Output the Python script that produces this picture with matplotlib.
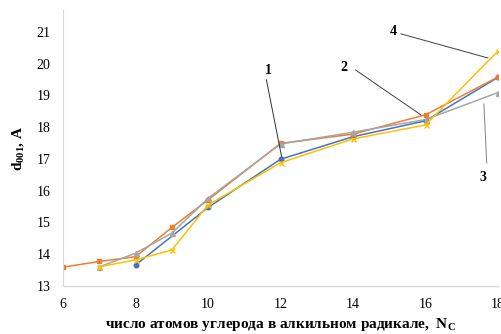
import matplotlib
matplotlib.use("Agg")
import matplotlib.pyplot as plt

# interlayer spacing d001 vs number of carbon atoms in the alkyl chain
nc_1 = [8, 10, 12, 14, 16, 18]
d_1 = [13.66, 15.47, 16.99, 17.70, 18.20, 19.57]

nc_2 = [6, 7, 8, 9, 10, 12, 14, 16, 18]
d_2 = [13.59, 13.77, 13.92, 14.84, 15.71, 17.49, 17.78, 18.39, 19.58]

nc_3 = [7, 8, 9, 10, 12, 14, 16, 18]
d_3 = [13.60, 14.03, 14.66, 15.76, 17.47, 17.84, 18.24, 19.09]

nc_4 = [7, 8, 9, 10, 12, 14, 16, 18]
d_4 = [13.60, 13.82, 14.13, 15.55, 16.88, 17.63, 18.07, 20.40]

plt.rcParams["font.family"] = ["Liberation Serif", "DejaVu Serif"]
plt.rcParams["mathtext.default"] = "regular"

fig = plt.figure(figsize=(5.01, 3.34), dpi=100)
ax = fig.add_axes([0.126, 0.144, 0.868, 0.826])

ax.plot(nc_1, d_1, color="#4472C4", marker="o", ms=3.3, lw=1.1)
ax.plot(nc_2, d_2, color="#ED7D31", marker="s", ms=3.3, lw=1.1)
ax.plot(nc_3, d_3, color="#A5A5A5", marker="^", ms=3.6, lw=1.1)
ax.plot(nc_4, d_4, color="#FFC000", marker="x", ms=3.6, mew=1.0, lw=1.1)

# curve numbers with leader lines
labels = [
    ("1", (11.67, 19.8), (11.61, 19.49), (12.03, 17.06), "#303030"),
    ("2", (13.74, 19.87), (14.07, 19.8), (15.87, 18.39), "#404040"),
    ("4", (15.12, 21.0), (15.32, 20.94), (17.72, 20.18), "#404040"),
    ("3", (17.58, 16.43), (17.69, 16.87), (17.61, 18.73), "#808080"),
]
for txt, tpos, p0, p1, c in labels:
    ax.text(tpos[0], tpos[1], txt, fontsize=10, fontweight="bold",
            ha="center", va="center")
    ax.plot([p0[0], p1[0]], [p0[1], p1[1]], color=c, lw=0.7)

ax.set_xlim(6, 18)
ax.set_ylim(13, 21.69)
ax.set_xticks(range(6, 19, 2))
ax.set_yticks(range(13, 22))
ax.tick_params(length=0, labelsize=10, pad=9)
ax.tick_params(axis="x", pad=9)

for s in ["top", "right"]:
    ax.spines[s].set_visible(False)
ax.spines["left"].set_color("#d9d9d9")
ax.spines["bottom"].set_color("#d9d9d9")
ax.spines["bottom"].set_linewidth(1.0)

ax.set_xlabel("число атомов углерода в алкильном радикале,  N$_C$",
              fontsize=11, fontweight="bold", labelpad=3)
ax.set_ylabel("d$_{001}$, A", fontsize=11, fontweight="bold", labelpad=8)

fig.savefig("out.png", dpi=100)
